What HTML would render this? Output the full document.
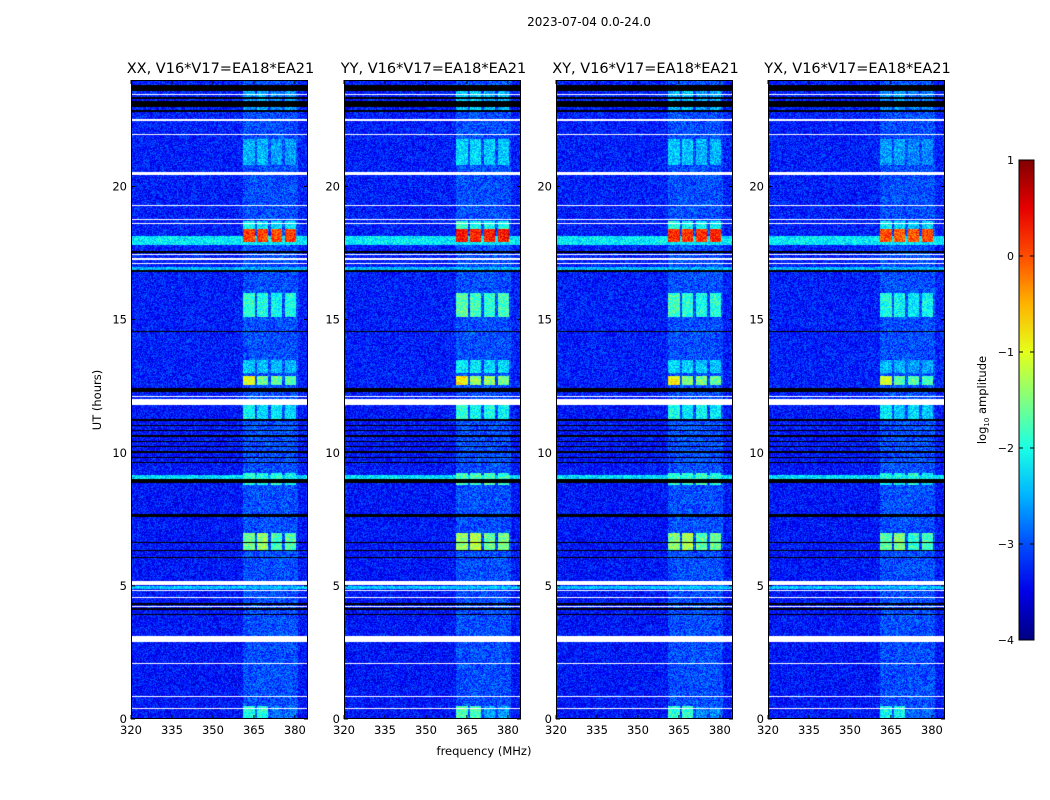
<!DOCTYPE html>
<html><head><meta charset="utf-8"><style>
body{margin:0;background:#fff;width:1050px;height:800px;overflow:hidden;font-family:"DejaVu Sans","Liberation Sans",sans-serif}
</style></head><body>
<svg id="svg" width="1050" height="800" xmlns="http://www.w3.org/2000/svg" style="position:absolute;left:0;top:0;font-family:'DejaVu Sans','Liberation Sans',sans-serif">
<text x="589" y="26" font-size="12" text-anchor="middle">2023-07-04 0.0-24.0</text>
<text x="484" y="755" font-size="11.5" text-anchor="middle">frequency (MHz)</text>
<text x="101" y="400" font-size="11.5" text-anchor="middle" transform="rotate(-90 101 400)">UT (hours)</text>
<text x="986" y="400" font-size="11.5" text-anchor="middle" transform="rotate(-90 986 400)">log<tspan font-size="7" dy="3">10</tspan><tspan dy="-3"> amplitude</tspan></text>
</svg>
<script>
// ---- data ----
const panelTitles = ["XX, V16*V17=EA18*EA21","YY, V16*V17=EA18*EA21","XY, V16*V17=EA18*EA21","YX, V16*V17=EA18*EA21"];
const panelGain = [0, 0.2, 0.1, -0.1];
const xTicks = [320,335,350,365,380];
const yTicks = [0,5,10,15,20];
const cbTicks = [1,0,-1,-2,-3,-4];
const background = -3.3;
const rfiBands = [[361,365.4],[366,370.1],[371.2,375.3],[376.3,380.4]];
const rfiBase = -3.0;
// events: [h0, h1, level of band1..4]
const rfiEvents = [
 [17.9,18.4, 0.1,0.05,0.05,0.1],
 [18.4,18.7,-2.1,-2.2,-2.3,-2.2],
 [12.55,12.9,-1.0,-1.6,-1.6,-1.7],
 [15.1,16.0,-1.9,-2.0,-2.1,-2.0],
 [6.3,7.0,-1.6,-1.4,-1.8,-1.7],
 [8.8,9.25,-2.0,-2.0,-1.9,-2.1],
 [11.2,12.0,-2.1,-2.3,-2.2,-2.3],
 [0.0,0.5,-2.0,-2.0,-2.8,-2.8],
 [20.8,21.8,-2.5,-2.5,-2.6,-2.6],
 [13.0,13.5,-2.4,-2.4,-2.5,-2.5],
 [22.8,23.6,-2.6,-2.5,-2.7,-2.6]
];
// full-width stripes: [h0,h1,level]
const stripes = [[17.8,18.15,-2.2],[16.88,16.98,-2.5],[8.95,9.15,-2.3],[4.9,4.98,-2.4]];
const whiteFlags = [[23.42,23.48],[22.45,22.55],[21.93,21.98],[20.45,20.55],[19.28,19.32],[18.73,18.78],[18.58,18.62],[17.43,17.48],[17.25,17.3],[17.08,17.12],[12.08,12.12],[11.8,12.03],[5.02,5.2],[4.81,4.85],[4.55,4.59],[4.21,4.25],[2.9,3.1],[2.08,2.12],[0.84,0.88],[0.39,0.43]];
const blackFlags = [[23.6,23.8],[23.3,23.36],[23.0,23.2],[22.8,22.86],[17.5,17.58],[16.78,16.85],[14.53,14.58],[12.28,12.42],
 [11.2,11.25],[11.0,11.05],[10.8,10.85],[10.6,10.65],[10.4,10.45],[10.2,10.25],[10.0,10.05],[9.8,9.85],[9.6,9.65],
 [8.88,9.0],[7.58,7.7],[6.6,6.66],[6.3,6.36],[6.05,6.1],[4.3,4.36],[4.1,4.16],[3.9,3.95]];

// ---- layout ----
const svgNS="http://www.w3.org/2000/svg";
const svg=document.getElementById('svg');
const panelX=[131,344,556,768], PW=177, PT=80, PB=719;
const fmin=320, fmax=384.8, hmax=24;
function xs(f,i){return panelX[i]+(f-fmin)/(fmax-fmin)*PW;}
function ys(h){return PB-h/hmax*(PB-PT);}
function jet(t){t=Math.max(0,Math.min(1,t));const c=v=>Math.round(255*Math.max(0,Math.min(1,v)));
 return [c(1.5-Math.abs(4*t-3)),c(1.5-Math.abs(4*t-2)),c(1.5-Math.abs(4*t-1))];}
function tex(x,y){let n=(x*374761393+y*668265263)|0;n=(n^(n>>>13))*1274126177;n=n^(n>>>16);return ((n>>>0)%1000)/1000;}
function mk(tag,attrs,parent){const e=document.createElementNS(svgNS,tag);for(const k in attrs)e.setAttribute(k,attrs[k]);(parent||svg).appendChild(e);return e;}

panelTitles.forEach((title,i)=>{
 const H=PB-PT;
 const cv=document.createElement('canvas');cv.width=PW;cv.height=H;
 const ctx=cv.getContext('2d');const img=ctx.createImageData(PW,H);
 for(let py=0;py<H;py++){
  const h=(PB-(PT+py+0.5))/(PB-PT)*hmax;
  let flag=0;
  for(const w of whiteFlags) if(h>=w[0]&&h<w[1]) flag=1;
  for(const b of blackFlags) if(h>=b[0]&&h<b[1]) flag=flag||2;
  let stripe=null;for(const s of stripes) if(h>=s[0]&&h<s[1]) stripe=s[2];
  let ev=null;for(const e of rfiEvents) if(h>=e[0]&&h<e[1]) ev=e;
  for(let px=0;px<PW;px++){
   const f=fmin+(px+0.5)/PW*(fmax-fmin);const k=(py*PW+px)*4;
   let rgb;
   if(flag===1) rgb=[255,255,255];
   else if(flag===2) rgb=[0,0,0];
   else{
    let v=background+(h>12?0.05:0);
    if(f>361&&f<381) v=Math.max(v,rfiBase);
    if(stripe!==null) v=Math.max(v,stripe);
    if(ev){rfiBands.forEach((b,bi)=>{if(f>=b[0]&&f<b[1]) v=Math.max(v,ev[2+bi]+panelGain[i]);});}
    v+= (tex(px+i*977,py)-0.5)*0.8;
    rgb=jet((v+4)/5);
   }
   img.data[k]=rgb[0];img.data[k+1]=rgb[1];img.data[k+2]=rgb[2];img.data[k+3]=255;
  }
 }
 ctx.putImageData(img,0,0);
 const im=mk('image',{x:panelX[i],y:PT,width:PW,height:H,href:cv.toDataURL(),preserveAspectRatio:'none'});
 
 
 const fr=mk('rect',{x:panelX[i]+0.5,y:PT+0.5,width:PW-1,height:H-1,fill:'none',stroke:'#000','stroke-width':1});
 
 
 const t=mk('text',{x:panelX[i]+PW/2+1,y:73,'font-size':14.5,'text-anchor':'middle'});t.textContent=title;
 
 
 xTicks.forEach(v=>{const x=xs(v,i);
  mk('line',{x1:x,x2:x,y1:PB,y2:PB-4,stroke:'#000'});mk('line',{x1:x,x2:x,y1:PT,y2:PT+4,stroke:'#000'});
  const l=mk('text',{x:x,y:PB+15,'font-size':11.5,'text-anchor':'middle'});l.textContent=v;
  
  });
 yTicks.forEach(v=>{const y=ys(v);
  mk('line',{x1:panelX[i],x2:panelX[i]+4,y1:y,y2:y,stroke:'#000'});mk('line',{x1:panelX[i]+PW,x2:panelX[i]+PW-4,y1:y,y2:y,stroke:'#000'});
  const l=mk('text',{x:panelX[i]-4,y:y+4,'font-size':11.5,'text-anchor':'end'});l.textContent=v;
  
  });
});
// colorbar
const cbX=1019,cbW=15,cbT=160,cbB=640;
const g=mk('linearGradient',{id:'jg',x1:0,y1:1,x2:0,y2:0},mk('defs',{}));
for(let s=0;s<=10;s++){const c=jet(s/10);mk('stop',{offset:s/10,'stop-color':`rgb(${c})`},g);}
const cb=mk('rect',{x:cbX,y:cbT,width:cbW,height:cbB-cbT,fill:'url(#jg)',stroke:'#000'});


cbTicks.forEach(v=>{const y=cbB-(v+4)/5*(cbB-cbT);
 mk('line',{x1:cbX,x2:cbX+4,y1:y,y2:y,stroke:'#000'});mk('line',{x1:cbX+cbW,x2:cbX+cbW-4,y1:y,y2:y,stroke:'#000'});
 const l=mk('text',{x:cbX-5,y:y+4,'font-size':11,'text-anchor':'end'});l.textContent=v<0?'\u2212'+(-v):v;
 
 });
</script>
</body></html>
